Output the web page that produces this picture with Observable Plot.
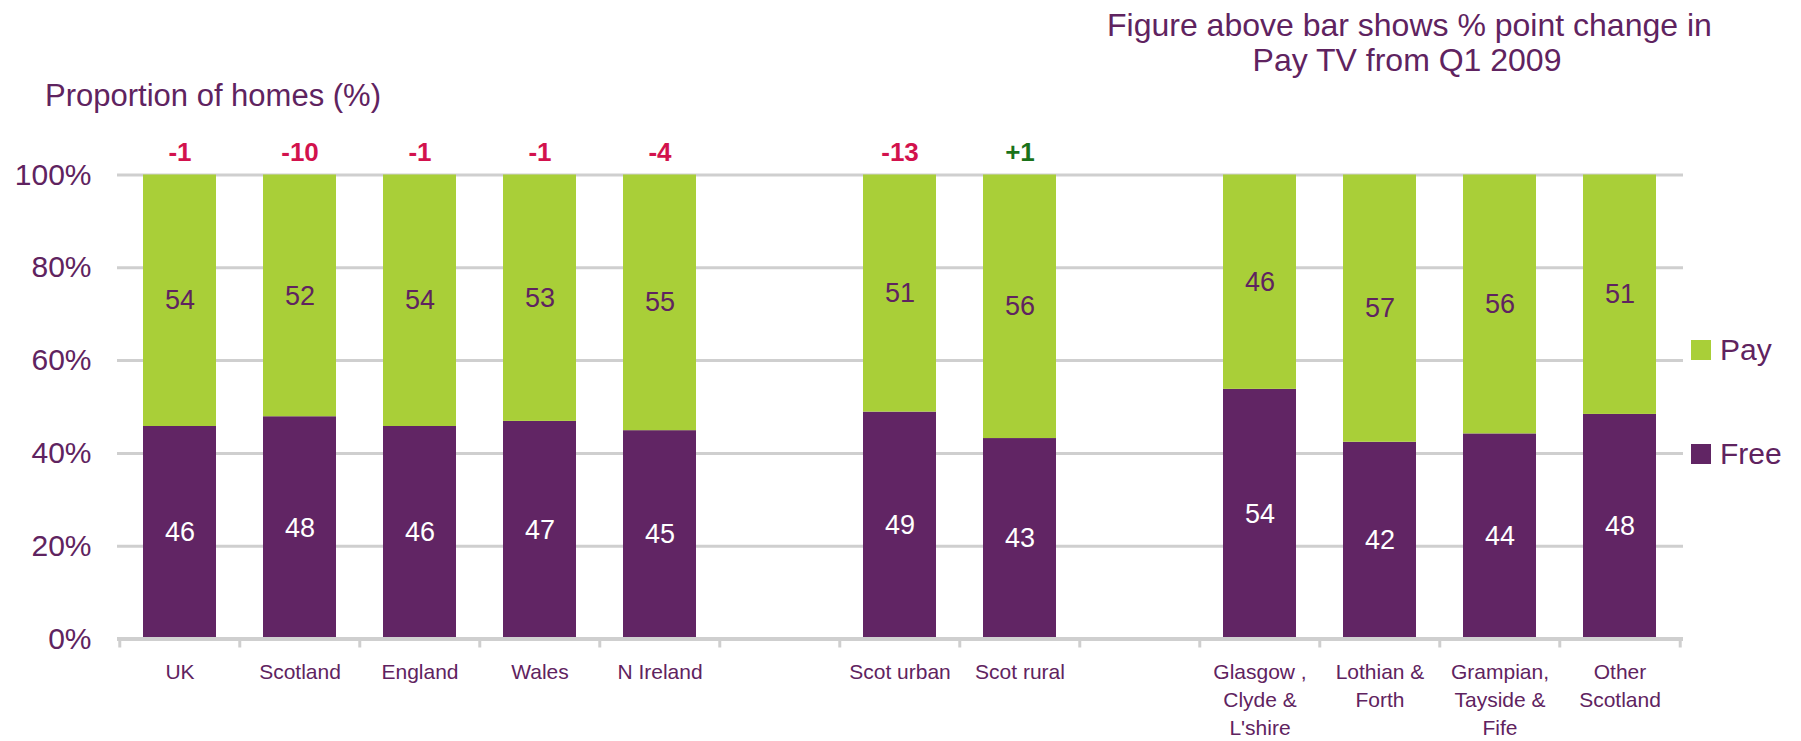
<!DOCTYPE html>
<html>
<head>
<meta charset="utf-8">
<script src="https://cdn.jsdelivr.net/npm/d3@7"></script>
<script src="https://cdn.jsdelivr.net/npm/@observablehq/plot@0.6"></script>
<style>
  html, body { margin: 0; padding: 0; background: #fff; }
  #wrap { position: relative; width: 1801px; height: 741px; font-family: "Liberation Sans", Arial, sans-serif; color: #5f2360; }
  #chart { position: absolute; left: 0; top: 0; }
  .ann { position: absolute; white-space: nowrap; }
  .title { left: 1107px; width: 600px; top: 8px; font-size: 32px; line-height: 35px; text-align: center; }
  .ylabel { left: 45px; top: 80px; font-size: 31px; line-height: 31px; }
  .leg { position: absolute; left: 1691px; display: flex; align-items: center; font-size: 30px; line-height: 30px; }
  .leg span.sw { display: inline-block; width: 20px; height: 20px; margin-right: 9px; }
</style>
</head>
<body>
<div id="wrap">
  <div id="chart"></div>
  <div class="ann title">Figure above bar shows % point change in<br>Pay TV from Q1 2009</div>
  <div class="ann ylabel">Proportion of homes (%)</div>
  <div class="leg" style="top:335px"><span class="sw" style="background:#a9cf38"></span><span>Pay</span></div>
  <div class="leg" style="top:439px"><span class="sw" style="background:#612564"></span><span>Free</span></div>
</div>
<script>
const categories = ["UK", "Scotland", "England", "Wales", "N Ireland", "Scot urban", "Scot rural",
  "Glasgow ,\nClyde &\nL'shire", "Lothian &\nForth", "Grampian,\nTayside &\nFife", "Other\nScotland"];
const freeValues = [45.8, 47.9, 45.8, 46.9, 44.9, 48.9, 43.2, 53.8, 42.4, 44.2, 48.4];
const payValues  = [54.2, 52.1, 54.2, 53.1, 55.1, 51.1, 56.8, 46.2, 57.6, 55.8, 51.6];
const freeLabels = ["46", "48", "46", "47", "45", "49", "43", "54", "42", "44", "48"];
const payLabels  = ["54", "52", "54", "53", "55", "51", "56", "46", "57", "56", "51"];
const changes    = [-1, -10, -1, -1, -4, -13, 1, null, null, null, null];
const yTicks = [0, 20, 40, 60, 80, 100];

const PURPLE = "#612564", GREEN = "#a9cf38", TEXT = "#5f2360", GRID = "#cfcfcf";
const RED = "#d2124d", DKGREEN = "#1a721a";

const GAP1 = "gap1", GAP2 = "gap2";
const domain = [...categories.slice(0, 5), GAP1, ...categories.slice(5, 7), GAP2, ...categories.slice(7)];

const rows = [];
categories.forEach((c, i) => {
  rows.push({cat: c, type: "Free", value: freeValues[i], label: freeLabels[i]});
  rows.push({cat: c, type: "Pay", value: payValues[i], label: payLabels[i]});
});
const changeRows = categories.map((c, i) => ({cat: c, v: changes[i]})).filter(d => d.v != null);

const W = 1801, H = 741, ML = 117, MR = 118, MT = 174.5, MB = 102.5;
const step = (W - ML - MR) / domain.length;

const order = ["Free", "Pay"];
const chart = Plot.plot({
  width: W, height: H,
  marginLeft: ML, marginRight: MR, marginTop: MT, marginBottom: MB,
  style: {fontFamily: '"Liberation Sans", Arial, sans-serif', background: "transparent", overflow: "visible"},
  x: {domain, paddingInner: 0.39, paddingOuter: 0.195, axis: null, label: null},
  y: {domain: [0, 100], axis: null, label: null},
  color: {type: "identity"},
  marks: [
    Plot.gridY(yTicks.filter(d => d > 0), {stroke: GRID, strokeOpacity: 1, strokeWidth: 3}),
    Plot.barY(rows, Plot.stackY({x: "cat", y: "value", z: "type", order,
      fill: d => d.type === "Free" ? PURPLE : GREEN})),
    Plot.text(rows, Plot.stackY({x: "cat", y: "value", z: "type", order, text: "label",
      fill: d => d.type === "Free" ? "#ffffff" : TEXT, fontSize: 27})),
    Plot.text(changeRows, {x: "cat", frameAnchor: "top", dy: -22, lineAnchor: "middle",
      text: d => (d.v > 0 ? "+" : "") + d.v, fontWeight: "bold", fontSize: 26,
      fill: d => d.v < 0 ? RED : DKGREEN}),
    Plot.ruleY([0], {stroke: GRID, strokeWidth: 4}),
    Plot.axisX(domain, {tickSize: 9, text: null, label: null, dx: -step / 2, stroke: GRID, strokeWidth: 3, strokeOpacity: 1}),
    Plot.axisX(domain.slice(-1), {tickSize: 9, text: null, label: null, dx: step / 2, stroke: GRID, strokeWidth: 3, strokeOpacity: 1}),
    Plot.axisX({tickSize: 0, tickPadding: 20, fontSize: 21, lineHeight: 1.34, fill: TEXT, label: null,
      tickFormat: d => (d === GAP1 || d === GAP2) ? "" : d}),
    Plot.axisY(yTicks, {tickSize: 0, tickPadding: 26, fontSize: 30, fill: TEXT, label: null, tickFormat: d => d + "%"})
  ]
});
document.getElementById("chart").appendChild(chart);
</script>
</body>
</html>
